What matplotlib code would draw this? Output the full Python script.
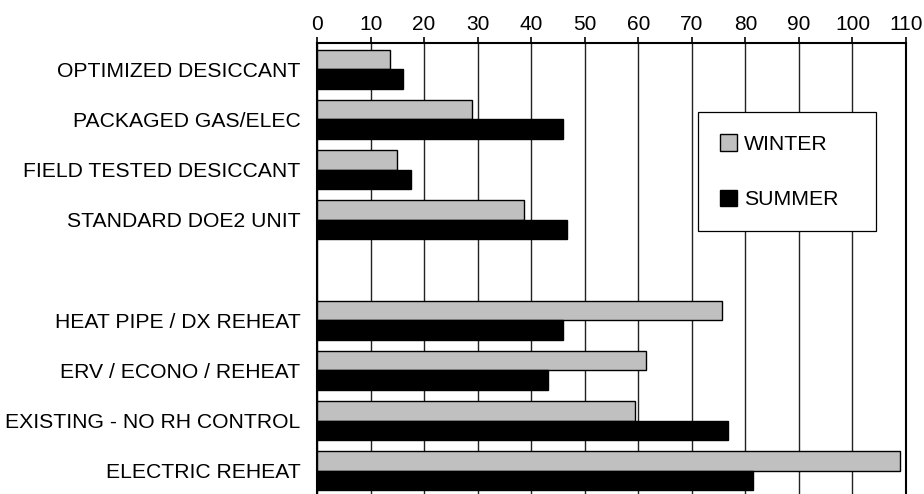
import matplotlib
matplotlib.use('Agg')
import matplotlib.pyplot as plt

plt.rcParams['font.family'] = ['Liberation Sans', 'DejaVu Sans']

# categories top to bottom, an empty slot separates the two groups
categories = ['OPTIMIZED DESICCANT', 'PACKAGED GAS/ELEC', 'FIELD TESTED DESICCANT',
              'STANDARD DOE2 UNIT', 'HEAT PIPE / DX REHEAT', 'ERV / ECONO / REHEAT',
              'EXISTING - NO RH CONTROL', 'ELECTRIC REHEAT']
slots = [0, 1, 2, 3, 5, 6, 7, 8]
winter = [13.7, 28.9, 14.9, 38.6, 75.7, 61.5, 59.3, 108.9]
summer = [16.0, 46.0, 17.5, 46.7, 46.0, 43.1, 76.7, 81.5]
ticks = list(range(0, 111, 10))

fig = plt.figure(figsize=(9.24, 4.94), dpi=100)
ax = fig.add_axes([0.3431, 0.0, 0.6374, 0.913])

h = 0.39
ax.barh([s - h / 2 for s in slots], winter, height=h, color='#c0c0c0',
        edgecolor='black', linewidth=1.0, label='WINTER', zorder=3)
ax.barh([s + h / 2 for s in slots], summer, height=h, color='black',
        edgecolor='black', linewidth=1.0, label='SUMMER', zorder=3)

ax.set_xlim(0, 110)
ax.set_ylim(8.46, -0.52)
ax.set_xticks(ticks)
ax.xaxis.tick_top()
ax.tick_params(axis='x', direction='out', length=4, width=1.2, pad=2.5,
               labelsize=15, colors='black')
ax.set_yticks(slots)
ax.set_yticklabels(categories)
ax.tick_params(axis='y', length=0, pad=12, labelsize=15.2)

ax.grid(axis='x', color='#222222', linewidth=1.0, zorder=0)
ax.set_axisbelow(True)

ax.spines['bottom'].set_visible(False)
ax.spines['top'].set_linewidth(1.5)
ax.spines['left'].set_linewidth(1.5)
ax.spines['right'].set_linewidth(1.5)

leg = ax.legend(loc='upper left', bbox_to_anchor=(0.647, 0.599, 0.302, 0.248),
                mode='expand', fontsize=15.3, frameon=True, fancybox=False,
                edgecolor='black', framealpha=1, borderpad=1.05,
                labelspacing=1.68, handlelength=0.8, handleheight=0.8,
                handletextpad=0.3, borderaxespad=0)
leg.get_frame().set_linewidth(0.9)

fig.savefig('out.png', dpi=100)
